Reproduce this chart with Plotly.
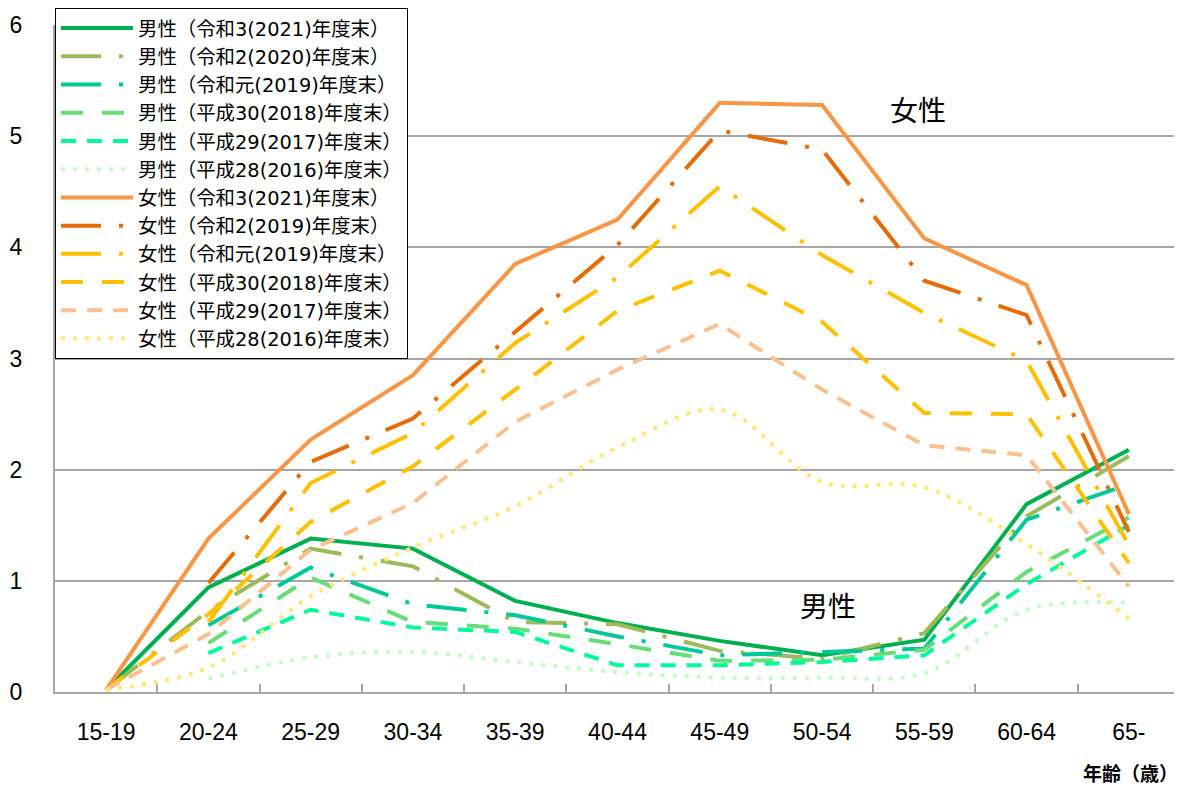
import plotly.graph_objects as go

categories = ["15-19", "20-24", "25-29", "30-34", "35-39", "40-44",
              "45-49", "50-54", "55-59", "60-64", "65-"]

male_2021 = [0.02, 0.94, 1.38, 1.29, 0.82, 0.62, 0.46, 0.33, 0.47, 1.69, 2.18]
male_2020 = [0.02, 0.73, 1.29, 1.13, 0.63, 0.61, 0.37, 0.30, 0.53, 1.58, 2.12]
male_2019 = [None, 0.60, 1.12, 0.79, 0.69, 0.50, 0.33, 0.36, 0.39, 1.55, 1.87]
male_2018 = [None, 0.44, 1.03, 0.63, 0.57, 0.43, 0.28, 0.29, 0.38, 1.08, 1.57]
male_2017 = [None, 0.35, 0.74, 0.58, 0.54, 0.24, 0.24, 0.27, 0.33, 0.97, 1.50]
male_2016 = [None, 0.12, 0.31, 0.36, 0.27, 0.18, 0.13, 0.13, 0.17, 0.74, 0.80]

female_2021 = [0.02, 1.38, 2.27, 2.85, 3.85, 4.25, 5.30, 5.28, 4.08, 3.66, 1.60]
female_2020 = [None, 0.98, 2.07, 2.46, 3.24, 4.02, 5.05, 4.88, 3.70, 3.39, 1.44]
female_2019 = [None, 0.63, 1.88, 2.33, 3.14, 3.73, 4.55, 3.93, 3.41, 2.98, 1.32]
female_2018 = [0.02, 0.70, 1.53, 2.03, 2.72, 3.43, 3.79, 3.33, 2.51, 2.50, 1.16]
female_2017 = [0.02, 0.52, 1.28, 1.70, 2.43, 2.90, 3.31, 2.72, 2.22, 2.13, 0.95]
female_2016 = [0.02, 0.22, 0.86, 1.30, 1.67, 2.20, 2.54, 1.89, 1.84, 1.33, 0.66]

y_ticks = [0, 1, 2, 3, 4, 5, 6]

LONGDASHDOT = "40px,18px,4px,18px"
LONGDASH = "22px,19px"
DASH = "15px,11px"
DOT = "4px,8px"

series = [
    ("男性（令和3(2021)年度末）", male_2021, "#00B050", "solid", "linear"),
    ("男性（令和2(2020)年度末）", male_2020, "#9BBB59", LONGDASHDOT, "linear"),
    ("男性（令和元(2019)年度末）", male_2019, "#00C896", LONGDASHDOT, "linear"),
    ("男性（平成30(2018)年度末）", male_2018, "#66DD77", LONGDASH, "linear"),
    ("男性（平成29(2017)年度末）", male_2017, "#00FA9A", DASH, "linear"),
    ("男性（平成28(2016)年度末）", male_2016, "#C4FCC8", DOT, "spline"),
    ("女性（令和3(2021)年度末）", female_2021, "#F79646", "solid", "linear"),
    ("女性（令和2(2019)年度末）", female_2020, "#E46C0A", LONGDASHDOT, "linear"),
    ("女性（令和元(2019)年度末）", female_2019, "#FFC000", LONGDASHDOT, "linear"),
    ("女性（平成30(2018)年度末）", female_2018, "#FFC000", LONGDASH, "linear"),
    ("女性（平成29(2017)年度末）", female_2017, "#FAC090", DASH, "linear"),
    ("女性（平成28(2016)年度末）", female_2016, "#FFE878", DOT, "spline"),
]

fig = go.Figure()
for name, vals, color, dash, shape in series:
    fig.add_trace(go.Scatter(
        x=categories, y=vals, name=name, mode="lines",
        line=dict(color=color, width=4, dash=dash, shape=shape),
        connectgaps=False,
    ))

CJK = "DejaVu Sans, Noto Sans CJK JP"
CJK2 = "Noto Sans CJK JP"
NUM = "Liberation Sans Narrow, Liberation Sans, sans-serif"

# the page body adds an 8px offset; the figure is sized to fit the window
fig.update_layout(
    width=1174, height=779,
    margin=dict(l=47, r=2, t=17, b=95, autoexpand=False),
    paper_bgcolor="white", plot_bgcolor="white",
    showlegend=True,
    legend=dict(
        x=0.0, y=1.0255, xanchor="left", yanchor="top",
        bgcolor="white", bordercolor="black", borderwidth=1,
        font=dict(family=CJK, size=19.4, color="black"),
        itemwidth=72, tracegroupgap=0,
    ),
    xaxis=dict(
        type="category", range=[-0.5, 10.5],
        showgrid=False, showline=True, linecolor="#A6A6A6", linewidth=2,
        ticks="inside", tickson="boundaries", ticklen=8, tickcolor="#A6A6A6",
        tickwidth=1.5, ticklabelstandoff=18,
        tickfont=dict(family=NUM, size=23, color="black"),
    ),
    yaxis=dict(
        range=[0, 6], tickvals=y_ticks,
        showgrid=True, gridcolor="#A6A6A6", gridwidth=1.5,
        showline=True, linecolor="#A6A6A6", linewidth=2,
        ticks="", ticklabelstandoff=26,
        tickfont=dict(family=NUM, size=23, color="black"),
        zeroline=False,
    ),
    annotations=[
        dict(text="女性", x=7.94, y=5.24, xref="x", yref="y", showarrow=False,
             font=dict(family=CJK2, size=28, color="black")),
        dict(text="男性", x=7.06, y=0.78, xref="x", yref="y", showarrow=False,
             font=dict(family=CJK2, size=28, color="black")),
        dict(text="<b>年齢（歳）</b>", x=1.0, y=-0.12, xref="paper", yref="paper",
             xanchor="right", yanchor="middle", showarrow=False,
             font=dict(family=CJK2, size=19, color="black")),
    ],
)

fig.write_html("out.html")
